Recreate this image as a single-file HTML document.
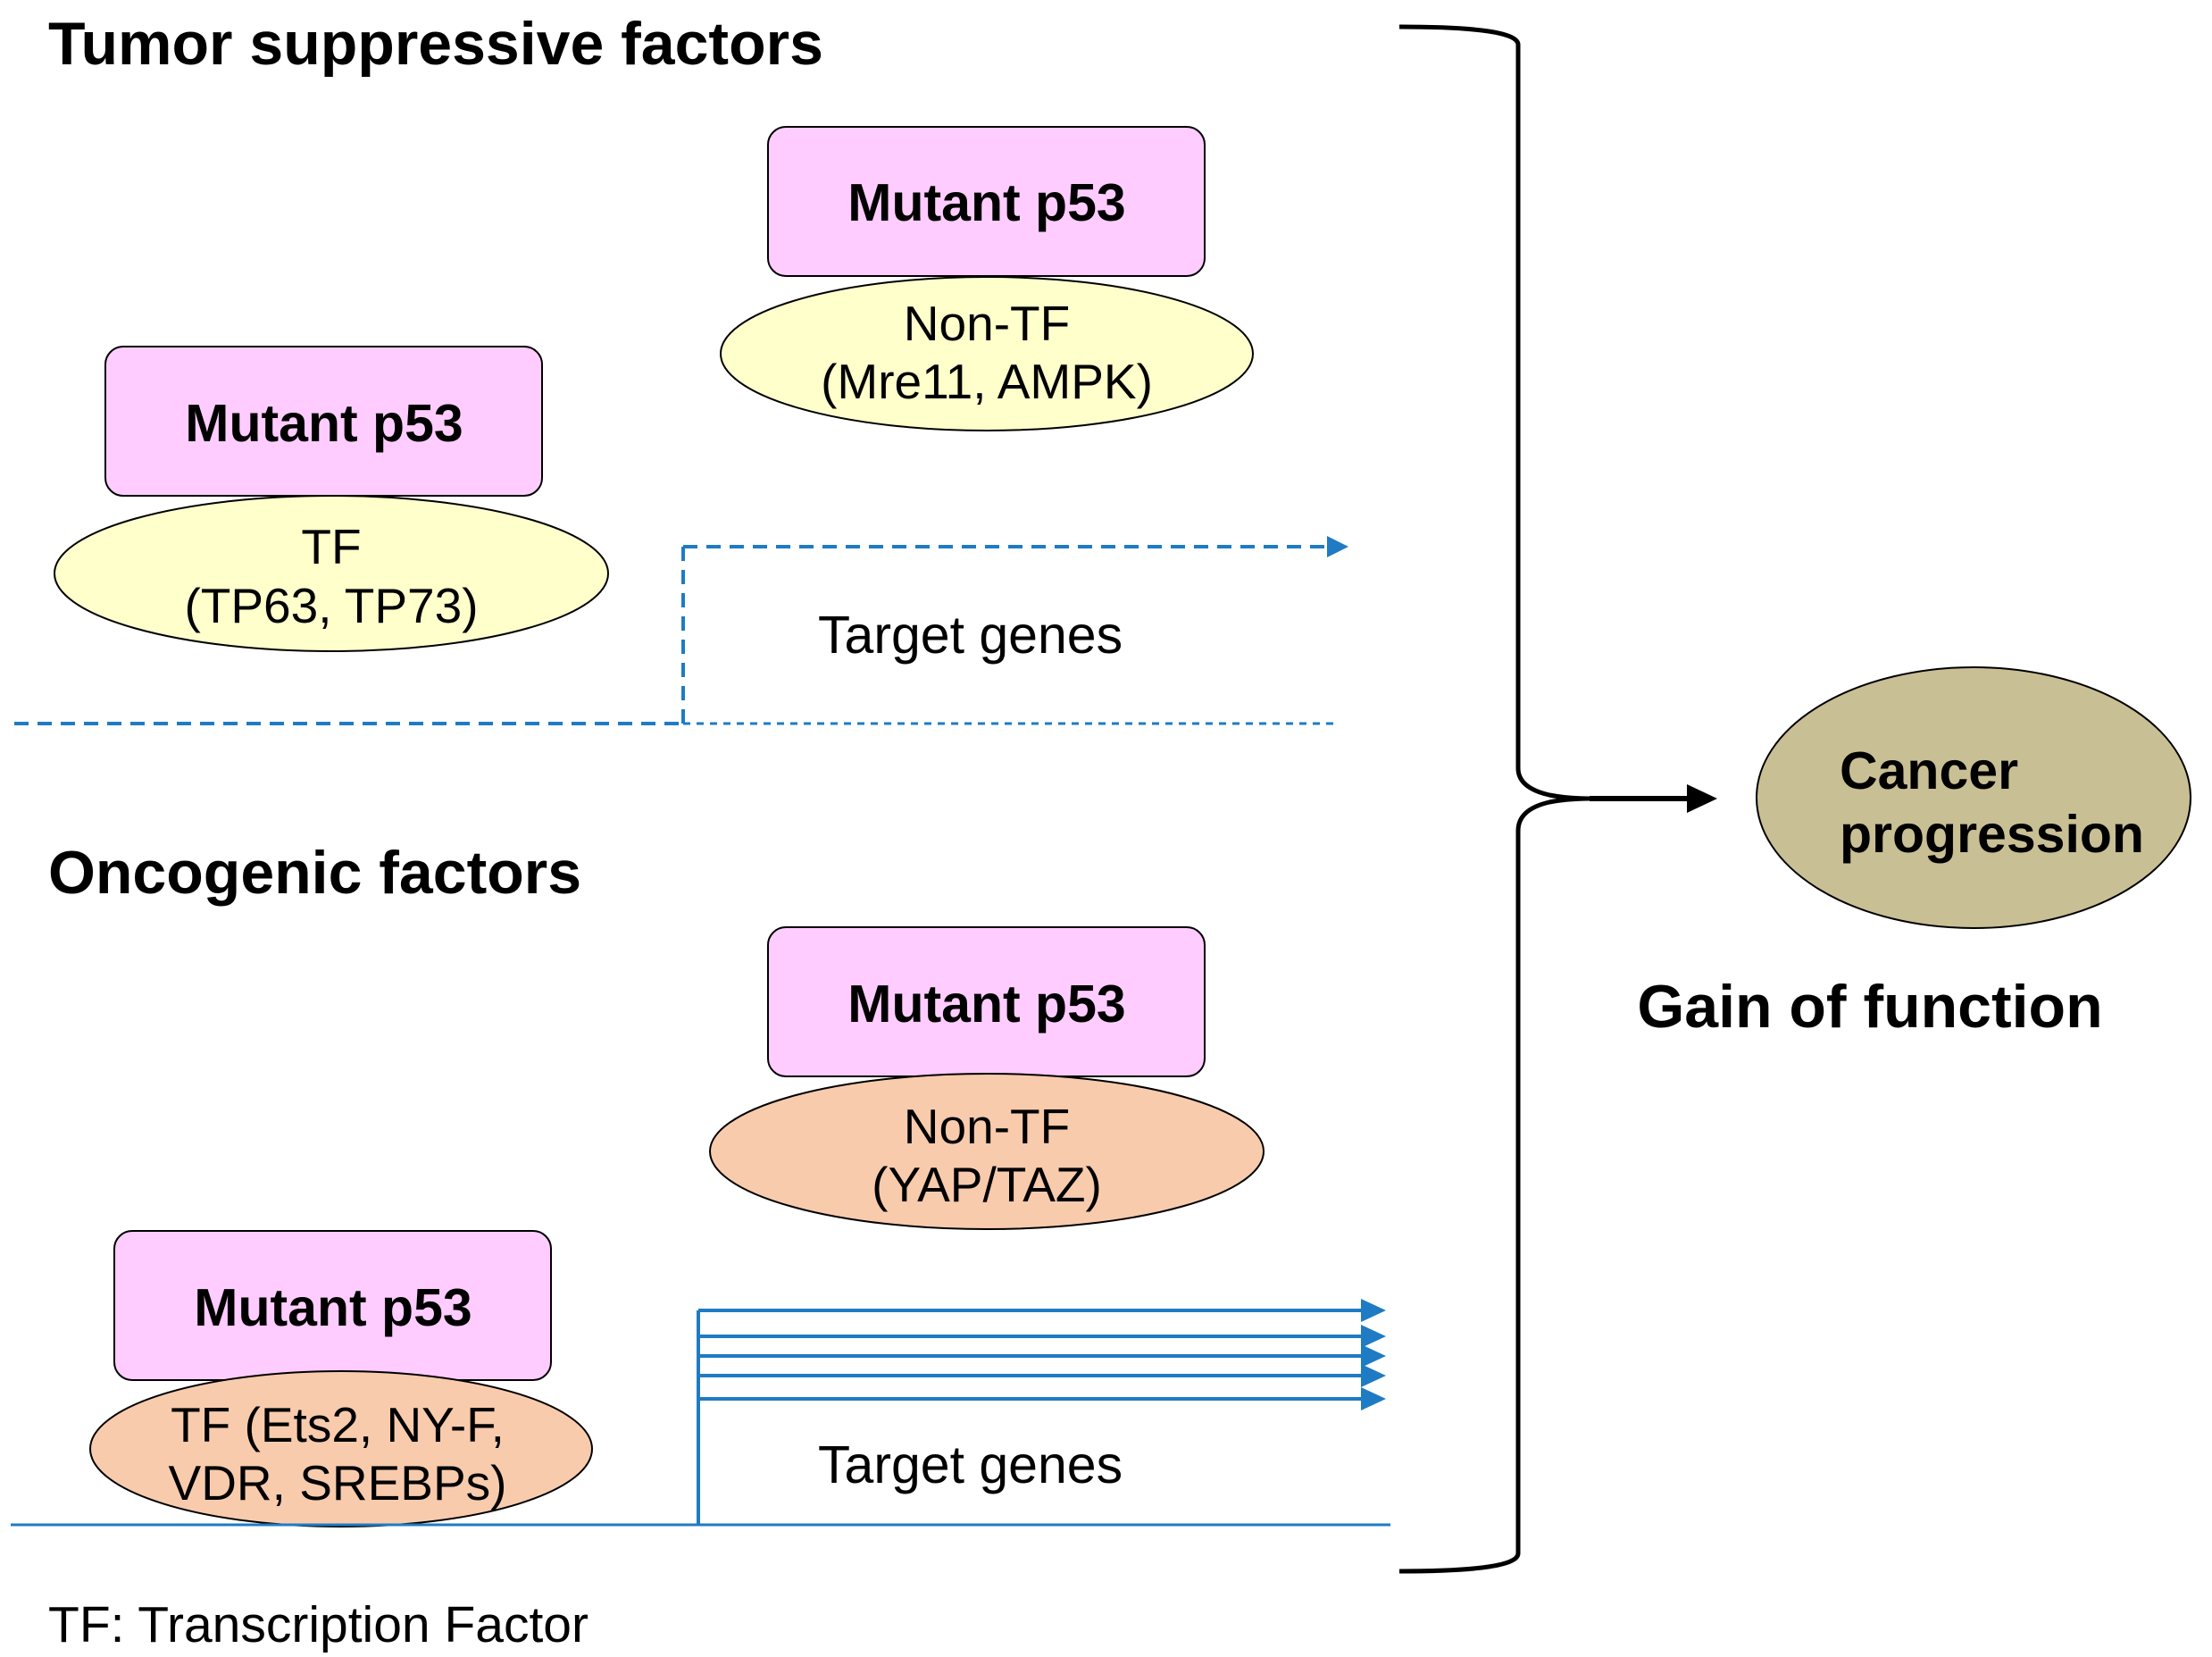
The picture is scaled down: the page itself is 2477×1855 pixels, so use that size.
<!DOCTYPE html>
<html><head><meta charset="utf-8"><style>
html,body{margin:0;padding:0;background:#fff;}
svg{display:block;}
text{font-family:"Liberation Sans",Arial,sans-serif;}
</style></head><body>
<svg width="2477" height="1855" viewBox="0 0 2477 1855" xmlns="http://www.w3.org/2000/svg">
<text x="54" y="72" font-size="68" font-weight="bold">Tumor suppressive factors</text>
<text x="54" y="1000" font-size="68" font-weight="bold">Oncogenic factors</text>

<!-- top right -->
<rect x="860" y="142" width="489" height="167" rx="20" fill="#ffccff" stroke="#000" stroke-width="2"/>
<text x="1105" y="247" font-size="59" font-weight="bold" text-anchor="middle">Mutant p53</text>
<ellipse cx="1105" cy="396" rx="298" ry="86" fill="#ffffcc" stroke="#000" stroke-width="2"/>
<text x="1105" y="381" font-size="55" text-anchor="middle">Non-TF</text>
<text x="1105" y="446" font-size="55" text-anchor="middle">(Mre11, AMPK)</text>

<!-- top left -->
<rect x="118" y="388" width="489" height="167" rx="20" fill="#ffccff" stroke="#000" stroke-width="2"/>
<text x="363" y="494" font-size="59" font-weight="bold" text-anchor="middle">Mutant p53</text>
<ellipse cx="371" cy="642" rx="310" ry="87" fill="#ffffcc" stroke="#000" stroke-width="2"/>
<text x="371" y="631" font-size="55" text-anchor="middle">TF</text>
<text x="371" y="697" font-size="55" text-anchor="middle">(TP63, TP73)</text>

<!-- dashed lines top -->
<line x1="16" y1="810" x2="765" y2="810" stroke="#1f7bc4" stroke-width="4" stroke-dasharray="16,10"/>
<line x1="765" y1="810" x2="765" y2="612" stroke="#1f7bc4" stroke-width="4" stroke-dasharray="16,10"/>
<line x1="765" y1="612" x2="1490" y2="612" stroke="#1f7bc4" stroke-width="4" stroke-dasharray="16,10"/>
<path d="M1486,600 L1510,612 L1486,624 z" fill="#1f7bc4"/>
<line x1="765" y1="810" x2="1500" y2="810" stroke="#1f7bc4" stroke-width="3" stroke-dasharray="8,7"/>
<text x="916" y="731" font-size="59">Target genes</text>

<!-- mid right -->
<rect x="860" y="1038" width="489" height="167" rx="20" fill="#ffccff" stroke="#000" stroke-width="2"/>
<text x="1105" y="1144" font-size="59" font-weight="bold" text-anchor="middle">Mutant p53</text>
<ellipse cx="1105" cy="1289" rx="310" ry="87" fill="#f8cbad" stroke="#000" stroke-width="2"/>
<text x="1105" y="1280" font-size="55" text-anchor="middle">Non-TF</text>
<text x="1105" y="1345" font-size="55" text-anchor="middle">(YAP/TAZ)</text>

<!-- bottom left -->
<rect x="128" y="1378" width="489" height="167" rx="20" fill="#ffccff" stroke="#000" stroke-width="2"/>
<text x="373" y="1484" font-size="59" font-weight="bold" text-anchor="middle">Mutant p53</text>
<ellipse cx="382" cy="1622" rx="281" ry="87" fill="#f8cbad" stroke="#000" stroke-width="2"/>
<text x="378" y="1614" font-size="55" text-anchor="middle">TF (Ets2, NY-F,</text>
<text x="378" y="1679" font-size="55" text-anchor="middle">VDR, SREBPs)</text>

<!-- solid lines bottom -->
<line x1="12" y1="1707" x2="1557" y2="1707" stroke="#1f7bc4" stroke-width="3"/>
<line x1="782" y1="1707" x2="782" y2="1467" stroke="#1f7bc4" stroke-width="4"/>
<g stroke="#1f7bc4" stroke-width="4">
<line x1="782" y1="1467" x2="1528" y2="1467"/>
<line x1="782" y1="1496" x2="1528" y2="1496"/>
<line x1="782" y1="1518" x2="1528" y2="1518"/>
<line x1="782" y1="1540" x2="1528" y2="1540"/>
<line x1="782" y1="1566" x2="1528" y2="1566"/>
</g>
<g fill="#1f7bc4">
<path d="M1524,1454 L1552,1467 L1524,1480 z"/>
<path d="M1524,1483 L1552,1496 L1524,1509 z"/>
<path d="M1524,1505 L1552,1518 L1524,1531 z"/>
<path d="M1524,1527 L1552,1540 L1524,1553 z"/>
<path d="M1524,1553 L1552,1566 L1524,1579 z"/>
</g>
<text x="916" y="1660" font-size="59">Target genes</text>

<text x="54" y="1838" font-size="57">TF: Transcription Factor</text>

<!-- brace -->
<path d="M1567,30 Q1700,30 1700,50 L1700,860 Q1700,882 1735,890 Q1755,894 1785,894 M1567,1759 Q1700,1759 1700,1739 L1700,930 Q1700,906 1735,898 Q1755,894 1785,894" fill="none" stroke="#000" stroke-width="5"/>
<line x1="1780" y1="894" x2="1895" y2="894" stroke="#000" stroke-width="6"/>
<path d="M1889,878 L1923,894 L1889,910 z" fill="#000"/>

<ellipse cx="2210" cy="893" rx="243" ry="146" fill="#c9bf94" stroke="#000" stroke-width="2"/>
<text x="2060" y="883" font-size="59" font-weight="bold">Cancer</text>
<text x="2060" y="954" font-size="59" font-weight="bold">progression</text>
<text x="2094" y="1150" font-size="68" font-weight="bold" text-anchor="middle">Gain of function</text>
</svg>
</body></html>
